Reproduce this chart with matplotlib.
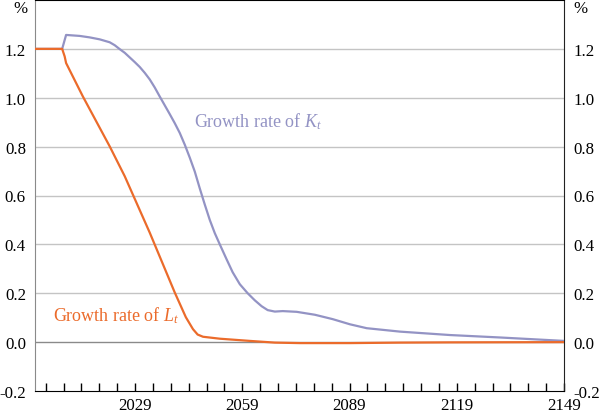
import matplotlib
matplotlib.use('Agg')
import matplotlib.pyplot as plt
from matplotlib.ticker import FixedLocator

# ============= DATA =============

k_years = [2001, 2008.6, 2009.7, 2013.5, 2016.3, 2019.1, 2021.9, 2023.3, 2024.7,
           2026.1, 2027.5, 2028.9, 2030.3, 2031.7, 2033.1, 2034.5, 2035.9, 2037.3,
           2038.7, 2040.1, 2041.5, 2042.9, 2044.3, 2045.7, 2047.1, 2048.5, 2049.9,
           2051.3, 2052.7, 2054.6, 2056.3, 2058.3, 2060.5, 2062.5, 2064.4, 2066.1,
           2068.1, 2070.3, 2074.2, 2079.3, 2084.3, 2089.1, 2093.8, 2103.1, 2117.1,
           2131.1, 2149]
k_growth = [1.2, 1.2, 1.257, 1.253, 1.247, 1.239, 1.227, 1.215, 1.199,
            1.184, 1.165, 1.146, 1.126, 1.102, 1.075, 1.042, 1.005, 0.969,
            0.933, 0.896, 0.856, 0.808, 0.755, 0.698, 0.629, 0.563, 0.500,
            0.446, 0.400, 0.339, 0.286, 0.237, 0.200, 0.171, 0.147, 0.131,
            0.125, 0.127, 0.124, 0.112, 0.094, 0.073, 0.057, 0.043, 0.029,
            0.019, 0.005]

l_years = [2001, 2008.6, 2009.3, 2009.7, 2014.4, 2021.9, 2026.1, 2033.1, 2040.1,
           2043.2, 2045.2, 2046.5, 2048.0, 2052.7, 2061.1, 2068.1, 2075.1, 2089.1,
           2103.1, 2117.1, 2149]
l_growth = [1.2, 1.2, 1.169, 1.142, 1.005, 0.801, 0.679, 0.448, 0.203,
            0.102, 0.053, 0.031, 0.022, 0.014, 0.005, -0.002, -0.004, -0.004,
            -0.002, -0.001, 0.0]

x_labels = [2029, 2059, 2089, 2119, 2149]
x_minor = list(range(2004, 2150, 5))
y_ticks = [-0.2, 0.0, 0.2, 0.4, 0.6, 0.8, 1.0, 1.2]

# ============= STYLE =============

plt.rcParams['font.family'] = ['Liberation Serif', 'DejaVu Serif']
plt.rcParams['mathtext.fontset'] = 'custom'
plt.rcParams['mathtext.rm'] = 'Liberation Serif'
plt.rcParams['mathtext.it'] = 'Liberation Serif:italic'
plt.rcParams['font.size'] = 12.2

k_col = '#9393C4'
l_col = '#EB6B2B'

fig = plt.figure(figsize=(6.0, 4.14), dpi=100)
ax = fig.add_axes([35 / 600, 22 / 414, 529 / 600, 391 / 414])

for yv in y_ticks:
    if yv == 0.0:
        ax.axhline(yv, color='#8a8a8a', lw=1.0, zorder=1)
    elif yv > -0.2:
        ax.axhline(yv, color='#c4c4c4', lw=1.0, zorder=1)

ax.plot(k_years, k_growth, color=k_col, lw=1.6, zorder=3)
ax.plot(l_years, l_growth, color=l_col, lw=1.6, zorder=4)

ax.set_xlim(2001, 2149)
ax.set_ylim(-0.2, 1.4)

ax.xaxis.set_major_locator(FixedLocator(x_labels))
ax.xaxis.set_minor_locator(FixedLocator(x_minor))
ax.set_xticklabels([str(x) for x in x_labels])
ax.tick_params(axis='x', which='both', direction='in', length=5.5, width=1,
               color='black', pad=4)

ax.set_yticks(y_ticks)
ax.set_yticklabels(['%.1f' % v for v in y_ticks])
ax.tick_params(axis='y', which='both', length=0, pad=6.5,
               labelleft=True, labelright=True)

ax.spines['left'].set_color('#8a8a8a')
ax.spines['right'].set_color('#222222')
ax.spines['bottom'].set_color('black')
ax.spines['top'].set_color('black')

fig.text(20 / 600, 1 - 9 / 414, '%', ha='center', va='center', fontsize=12.2)
fig.text(580 / 600, 1 - 9 / 414, '%', ha='center', va='center', fontsize=12.2)

ax.text(2045.6, 0.905, r'Growth rate of $K_t$', color=k_col, fontsize=13,
        ha='left', va='center')
ax.text(2006.0, 0.114, r'Growth rate of $L_t$', color=l_col, fontsize=13,
        ha='left', va='center')

fig.savefig('out.png', dpi=100)
